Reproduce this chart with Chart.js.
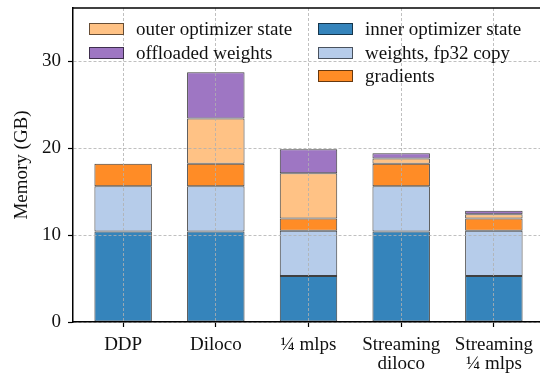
<!DOCTYPE html>
<html>
<head>
<meta charset="utf-8">
<script src="https://cdn.jsdelivr.net/npm/chart.js@4"></script>
<style>
  html, body { margin: 0; padding: 0; background: #fff; overflow: hidden; }
  #wrap { position: relative; width: 550px; height: 377px; }
  #legend { position: absolute; left: 0; top: 0; font-family: "Liberation Serif", serif; font-size: 19px; color: #111; }
  .item { position: absolute; white-space: nowrap; line-height: 19px; }
  .sw { position: absolute; width: 33px; height: 10px; border: 1px solid rgba(0,0,0,0.6); }
  .lb { position: absolute; left: 47px; top: -4px; }
</style>
</head>
<body>
<div id="wrap">
  <canvas id="c" width="550" height="377"></canvas>
  <div id="legend"></div>
</div>
<script>
// ---- data ----
const categories = [["DDP"], ["Diloco"], ["\u00BC mlps"], ["Streaming", "diloco"], ["Streaming", "\u00BC mlps"]];
const innerOptimizerState = [10.4, 10.4, 5.3, 10.4, 5.3];
const weightsFp32Copy     = [5.2, 5.2, 5.2, 5.2, 5.2];
const gradients           = [2.6, 2.6, 1.4, 2.6, 1.4];
const outerOptimizerState = [0, 5.2, 5.2, 0.6, 0.5];
const offloadedWeights    = [0, 5.3, 2.75, 0.6, 0.4];
const yTicks = [0, 10, 20, 30];

const series = [
  { name: "inner optimizer state", values: innerOptimizerState, color: "rgba(31,119,180,0.9)" },
  { name: "weights, fp32 copy",    values: weightsFp32Copy,     color: "rgba(174,199,232,0.9)" },
  { name: "gradients",             values: gradients,           color: "rgba(255,127,14,0.9)" },
  { name: "outer optimizer state", values: outerOptimizerState, color: "rgba(255,187,120,0.9)" },
  { name: "offloaded weights",     values: offloadedWeights,    color: "rgba(148,103,189,0.9)" }
];

const datasets = series.map(s => ({
  label: s.name,
  data: s.values.map((v, i) => ({ x: i, y: v })),
  backgroundColor: s.color,
  borderColor: "rgba(0,0,0,0.75)",
  borderWidth: 1,
  borderSkipped: false,
  stack: "mem",
  categoryPercentage: 1.0,
  barPercentage: 0.62
}));

const FONT = { family: "'Liberation Serif', serif", size: 19, lineHeight: 1.0 };

const topSpine = {
  id: "topSpine",
  afterDraw(chart) {
    const { ctx, chartArea } = chart;
    ctx.save();
    ctx.strokeStyle = "#000";
    ctx.lineWidth = 1.5;
    ctx.setLineDash([]);
    ctx.beginPath();
    ctx.moveTo(chartArea.left, chartArea.top);
    ctx.lineTo(chartArea.right, chartArea.top);
    ctx.stroke();
    ctx.restore();
  }
};

const gridOpts = {
  z: 1,
  offset: false,
  color: "#b0b0b0",
  lineWidth: 0.8,
  tickBorderDash: [],
  tickColor: "#000",
  tickWidth: 1.2,
  tickLength: 5
};
const borderOpts = { display: true, color: "#000", width: 1.5, z: 2, dash: [3, 2] };

new Chart(document.getElementById("c"), {
  type: "bar",
  data: { datasets },
  plugins: [topSpine],
  options: {
    responsive: false,
    animation: false,
    devicePixelRatio: 1,
    layout: { padding: { top: 8, right: 6, left: 0, bottom: 0 } },
    plugins: { legend: { display: false }, tooltip: { enabled: false } },
    scales: {
      x: {
        type: "linear",
        offset: false,
        min: -0.541,
        max: 4.541,
        afterFit(scale) {
          scale.height = 55;
          scale.paddingLeft = 0; scale.paddingRight = 0;
          scale.paddingTop = 0; scale.paddingBottom = 0;
        },
        afterBuildTicks(scale) {
          scale.ticks = categories.map((_, i) => ({ value: i }));
        },
        ticks: {
          autoSkip: false,
          maxRotation: 0,
          minRotation: 0,
          padding: 9,
          color: "#111",
          font: FONT,
          callback: (v) => categories[v]
        },
        grid: gridOpts,
        border: borderOpts
      },
      y: {
        stacked: true,
        min: 0,
        max: 36.1,
        afterFit(scale) {
          scale.width = 73;
          scale.paddingLeft = 0; scale.paddingRight = 0;
          scale.paddingTop = 0; scale.paddingBottom = 0;
        },
        afterBuildTicks(scale) {
          scale.ticks = yTicks.map(v => ({ value: v }));
        },
        ticks: { padding: 7, color: "#111", font: FONT },
        title: {
          display: true,
          text: "Memory (GB)",
          color: "#111",
          font: { family: "'Liberation Serif', serif", size: 19 },
          padding: { top: 11, bottom: 0 }
        },
        grid: gridOpts,
        border: borderOpts
      }
    }
  }
});

// ---- legend (two columns, as in the reference) ----
const legendLayout = [
  { idx: 3, x: 89,  y: 23 },
  { idx: 4, x: 89,  y: 47 },
  { idx: 0, x: 318, y: 23 },
  { idx: 1, x: 318, y: 47 },
  { idx: 2, x: 318, y: 70 }
];
const leg = document.getElementById("legend");
legendLayout.forEach(p => {
  const s = series[p.idx];
  const it = document.createElement("div");
  it.className = "item";
  it.style.left = p.x + "px";
  it.style.top = p.y + "px";
  const sw = document.createElement("span");
  sw.className = "sw";
  sw.style.background = s.color;
  const lb = document.createElement("span");
  lb.className = "lb";
  lb.textContent = s.name;
  it.appendChild(sw);
  it.appendChild(lb);
  leg.appendChild(it);
});
</script>
</body>
</html>
